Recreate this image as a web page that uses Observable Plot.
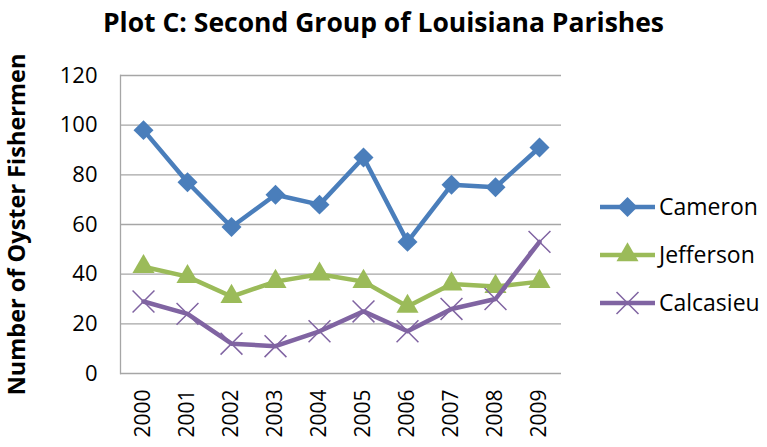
<!DOCTYPE html>
<html>
<head>
<meta charset="utf-8">
<script src="https://cdn.jsdelivr.net/npm/d3@7"></script>
<script src="https://cdn.jsdelivr.net/npm/@observablehq/plot@0.6"></script>
<style>
  body { margin: 0; background: #fff; font-family: "Open Sans", sans-serif; }
  #wrap { position: relative; width: 767px; height: 447px; }
  #title { height: 50px; line-height: 45px; text-align: center; font-size: 26.5px; font-weight: bold; color: #000; }
  #legend { position: absolute; left: 595px; top: 180px; }
  g[aria-label="y-axis label"] text { font-weight: bold; font-size: 23.5px; }
</style>
</head>
<body>
<div id="wrap">
  <div id="title">Plot C: Second Group of Louisiana Parishes</div>
  <div id="chart"></div>
  <svg id="legend" width="172" height="140"></svg>
</div>
<script>
const years = ["2000","2001","2002","2003","2004","2005","2006","2007","2008","2009"];
const cameron   = [98, 77, 59, 72, 68, 87, 53, 76, 75, 91];
const jefferson = [43, 39, 31, 37, 40, 37, 27, 36, 35, 37];
const calcasieu = [29, 24, 12, 11, 17, 25, 17, 26, 30, 53];
const seriesNames = ["Cameron", "Jefferson", "Calcasieu"];
const seriesColors = ["#4A7EBB", "#9BBB59", "#8064A2"];
const yTicks = [0, 20, 40, 60, 80, 100, 120];
const yLabel = "Number of Oyster Fishermen";

const seriesValues = [cameron, jefferson, calcasieu];
const rows = [];
seriesNames.forEach((s, i) => years.forEach((y, j) => rows.push({series: s, year: y, value: seriesValues[i][j]})));
const bySeries = s => rows.filter(d => d.series === s);

const font = "'Open Sans', sans-serif";
const plot = Plot.plot({
  width: 767,
  height: 397,
  marginTop: 25,
  marginBottom: 74,
  marginLeft: 120,
  marginRight: 206,
  style: {fontFamily: font, color: "#000", background: "#fff"},
  x: {type: "point", domain: years, padding: 0.5},
  y: {domain: [0, 120]},
  marks: [
    Plot.gridY(yTicks, {stroke: "#A6A6A6", strokeOpacity: 1, strokeWidth: 1.3}),
    Plot.frame({anchor: "left", stroke: "#A6A6A6", strokeWidth: 1.3}),
    Plot.axisY(yTicks, {tickSize: 0, tickPadding: 23, fontSize: 22, label: yLabel, labelAnchor: "center", labelOffset: 112, labelArrow: "none"}),
    Plot.axisX({tickSize: 0, tickRotate: -90, tickPadding: 16, fontSize: 21, label: null}),
    Plot.line(bySeries("Cameron"), {x: "year", y: "value", stroke: seriesColors[0], strokeWidth: 4.5}),
    Plot.dot(bySeries("Cameron"), {x: "year", y: "value", symbol: "diamond2", fill: seriesColors[0], r: 9}),
    Plot.line(bySeries("Jefferson"), {x: "year", y: "value", stroke: seriesColors[1], strokeWidth: 4.5}),
    Plot.dot(bySeries("Jefferson"), {x: "year", y: "value", symbol: "triangle", fill: seriesColors[1], r: 8.2}),
    Plot.line(bySeries("Calcasieu"), {x: "year", y: "value", stroke: seriesColors[2], strokeWidth: 4.5}),
    Plot.dot(bySeries("Calcasieu"), {x: "year", y: "value", symbol: "times", stroke: seriesColors[2], strokeWidth: 1.5, r: 10})
  ]
});
document.getElementById("chart").appendChild(plot);

// legend
const symbols = [d3.symbolDiamond2, d3.symbolTriangle, d3.symbolTimes];
const sizes = [255, 210, 317];
const lg = d3.select("#legend");
seriesNames.forEach((name, i) => {
  const g = lg.append("g").attr("transform", `translate(0, ${27 + i * 48})`);
  g.append("line").attr("x1", 5).attr("x2", 60).attr("y1", 0).attr("y2", 0)
    .attr("stroke", seriesColors[i]).attr("stroke-width", 4.5);
  const p = g.append("path").attr("transform", "translate(32.5,0)")
    .attr("d", d3.symbol(symbols[i], sizes[i])());
  if (i === 2) p.attr("fill", "none").attr("stroke", seriesColors[i]).attr("stroke-width", 1.5);
  else p.attr("fill", seriesColors[i]);
  g.append("text").attr("x", 64).attr("y", 0).attr("dy", "0.35em")
    .attr("font-size", 23).attr("font-family", font).text(name);
});
</script>
</body>
</html>
